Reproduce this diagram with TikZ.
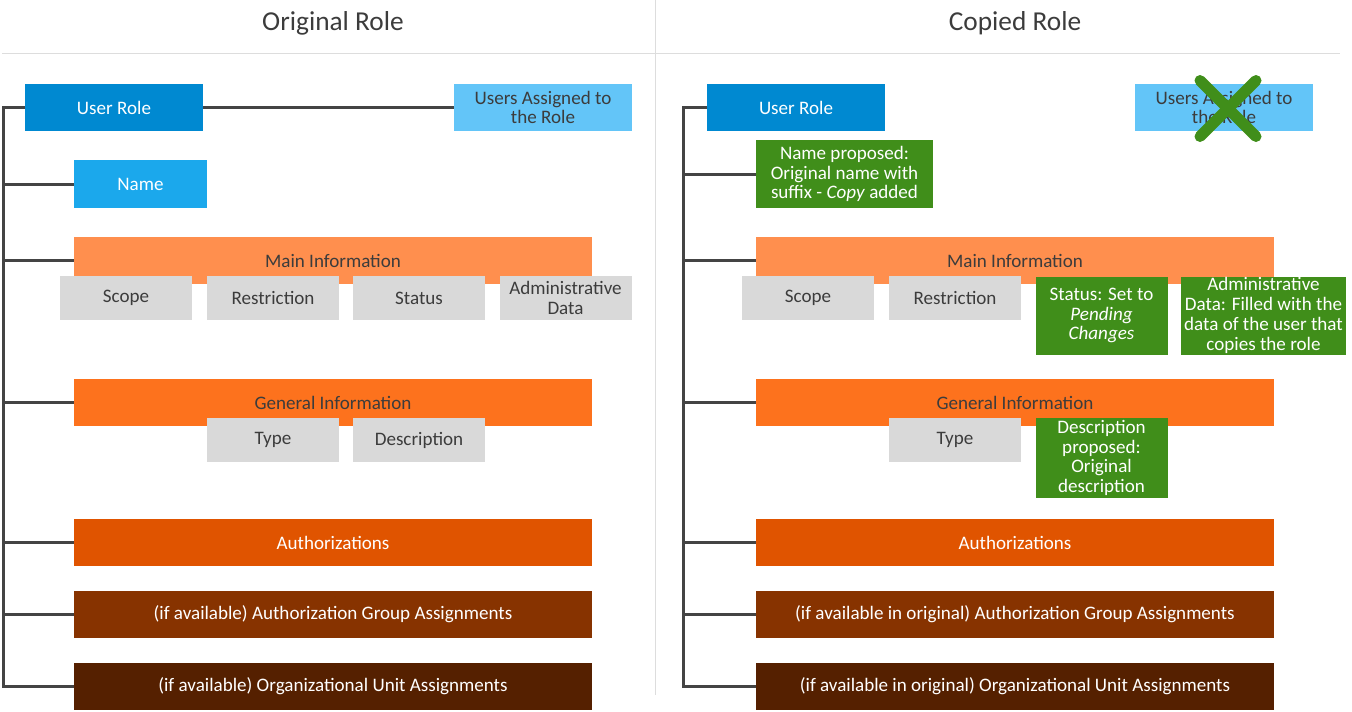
\documentclass[tikz,border=0pt]{standalone}
\usepackage{fontspec}
\setmainfont{Carlito}
\usepackage{tikz}
\usetikzlibrary{positioning,calc}
\definecolor{roleblue}{RGB}{0,137,209}
\definecolor{assignblue}{RGB}{99,197,248}
\definecolor{nameblue}{RGB}{27,168,236}
\definecolor{mainorange}{RGB}{255,143,78}
\definecolor{genorange}{RGB}{253,114,29}
\definecolor{authorange}{RGB}{224,84,0}
\definecolor{groupbrown}{RGB}{135,51,0}
\definecolor{orgbrown}{RGB}{85,32,0}
\definecolor{detailgray}{RGB}{217,217,217}
\definecolor{changegreen}{RGB}{64,142,26}
\definecolor{darktext}{RGB}{60,60,60}
\definecolor{treegray}{RGB}{68,68,68}
\definecolor{dividergray}{RGB}{221,221,221}
\tikzstyle{box}=[rectangle, inner sep=0pt, align=center, font=\fontsize{14.3}{14.8}\selectfont]
\tikzstyle{role}=[box, fill=roleblue, text=white, minimum width=133.5pt, minimum height=35.25pt]
\tikzstyle{assigned}=[box, fill=assignblue, text=darktext, minimum width=133.5pt, minimum height=35.25pt]
\tikzstyle{wide}=[box, minimum width=388.5pt, minimum height=35.25pt]
\tikzstyle{detail}=[box, fill=detailgray, text=darktext, minimum width=99pt, minimum height=33pt]
\tikzstyle{changed}=[box, fill=changegreen, text=white]
\tikzstyle{heading}=[font=\fontsize{20.5}{23}\selectfont, text=darktext]
\tikzstyle{tree}=[line width=2.25pt, draw=treegray]
\tikzstyle{divider}=[line width=0.75pt, draw=dividergray]
\tikzstyle{cross}=[line width=8.25pt, draw=changegreen, line cap=round]

\begin{document}
\begin{tikzpicture}[x=0.75pt, y=-0.75pt]
        \useasboundingbox (0,0) rectangle (1352,711);

        \draw[divider] (2,53) -- (1340,53);
        \draw[divider] (655,0) -- (655,695);

        \node (titleL) [heading] at (333,23) {Original Role};
        \node (titleR) [heading] at (1015,23) {Copied Role};

        % Original role
        \node (userL) [role] at (114,107.5) {User Role};
        \node (usersL) [assigned] at (543,107.5) {Users Assigned to\\the Role};
        \node (nameL) [box, fill=nameblue, text=white, minimum width=99.75pt, minimum height=36pt] at (140.5,184) {Name};
        \node (mainL) [wide, fill=mainorange, text=darktext] at (333,260.5) {Main Information};
        \node (scopeL) [detail] at (126,298) {Scope};
        \node (restrL) [detail] at (273,298) {Restriction};
        \node (statusL) [detail] at (419,298) {Status};
        \node (adminL) [detail] at (565.5,298) {Administrative\\Data};
        \node (genL) [wide, fill=genorange, text=darktext] at (333,402.5) {General Information};
        \node (typeL) [detail] at (273,440) {Type};
        \node (descL) [detail] at (419,440) {Description};
        \node (authL) [wide, fill=authorange, text=white] at (333,542.5) {Authorizations};
        \node (groupL) [wide, fill=groupbrown, text=white] at (333,614.5) {(if available) Authorization Group Assignments};
        \node (orgL) [wide, fill=orgbrown, text=white] at (333,686.5) {(if available) Organizational Unit Assignments};

        \coordinate (spineL) at (3,0);
        \draw[tree] (userL.west) -- (userL.west -| spineL) -- (orgL.west -| spineL) -- (orgL.west);
        \foreach \n in {nameL,mainL,genL,authL,groupL}
            \draw[tree] (\n.west -| spineL) -- (\n.west);
        \draw[tree] (userL.east) -- (usersL.west);

        % Copied role
        \node (userR) [role] at (796,107.5) {User Role};
        \node (usersR) [assigned] at (1224,107.5) {Users Assigned to\\the Role};
        \node (nameR) [changed, minimum width=132.75pt, minimum height=51pt] at (844.5,174) {Name proposed:\\Original name with\\suffix - \textit{Copy} added};
        \node (mainR) [wide, fill=mainorange, text=darktext] at (1015,260.5) {Main Information};
        \node (scopeR) [detail] at (808,298) {Scope};
        \node (restrR) [detail] at (955,298) {Restriction};
        \node (statusR) [changed, minimum width=99pt, minimum height=58.5pt] at (1101.5,315.5) {Status: Set to\\\textit{Pending}\\\textit{Changes}};
        \node (adminR) [changed, minimum width=123.75pt, minimum height=58.5pt] at (1263.5,315.5) {Administrative\\Data: Filled with the\\data of the user that\\copies the role};
        \node (genR) [wide, fill=genorange, text=darktext] at (1015,402.5) {General Information};
        \node (typeR) [detail] at (955,440) {Type};
        \node (descR) [changed, minimum width=99pt, minimum height=60pt] at (1101.5,458) {Description\\proposed:\\Original\\description};
        \node (authR) [wide, fill=authorange, text=white] at (1015,542.5) {Authorizations};
        \node (groupR) [wide, fill=groupbrown, text=white] at (1015,614.5) {(if available in original) Authorization Group Assignments};
        \node (orgR) [wide, fill=orgbrown, text=white] at (1015,686.5) {(if available in original) Organizational Unit Assignments};

        \coordinate (spineR) at (683,0);
        \draw[tree] (userR.west) -- (userR.west -| spineR) -- (orgR.west -| spineR) -- (orgR.west);
        \foreach \n in {nameR,mainR,genR,authR,groupR}
            \draw[tree] (\n.west -| spineR) -- (\n.west);

        % not copied
        \draw[cross] ($(usersR.center)+(-24,-27)$) -- ($(usersR.center)+(32,29)$);
        \draw[cross] ($(usersR.center)+(32,-27)$) -- ($(usersR.center)+(-24,29)$);

\end{tikzpicture}
\end{document}
